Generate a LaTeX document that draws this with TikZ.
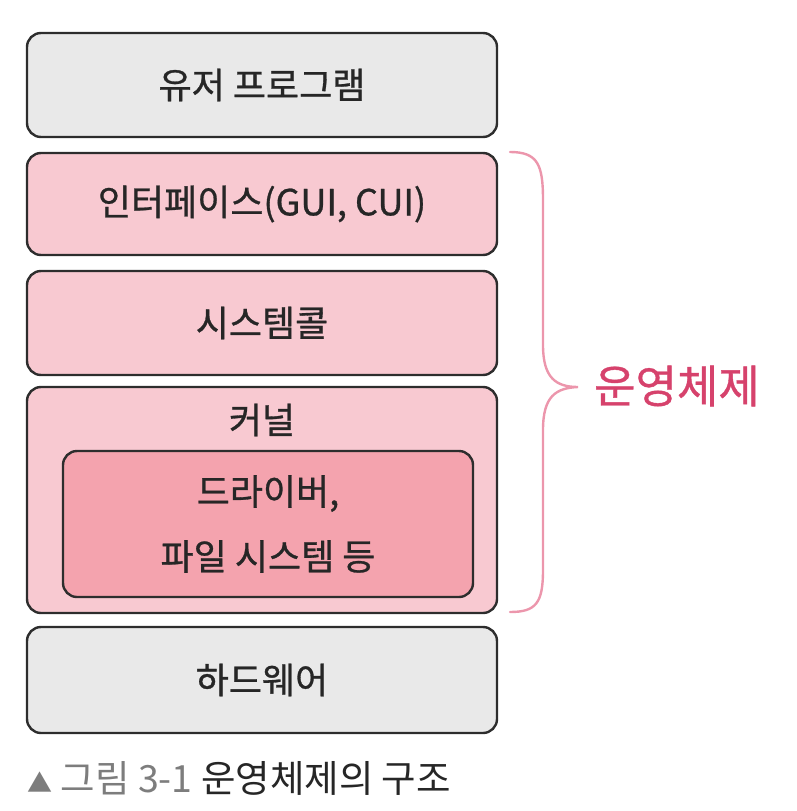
\documentclass[tikz,border=0pt]{standalone}
\usepackage{fontspec}
\setmainfont{Noto Sans CJK KR}
\newfontfamily\handfont[FakeBold=0.8]{Noto Sans CJK KR}
\usetikzlibrary{positioning}
\definecolor{layergray}{RGB}{233,233,233}
\definecolor{layerpink}{RGB}{248,201,209}
\definecolor{corepink}{RGB}{244,163,174}
\definecolor{braceline}{RGB}{236,150,172}
\definecolor{ostext}{RGB}{214,66,108}
\definecolor{edge}{RGB}{45,45,45}
\definecolor{capgray}{RGB}{125,125,125}

\begin{document}
\begin{tikzpicture}[x=1pt,y=-1pt,font=\handfont\fontsize{36}{40}\selectfont,
  layer/.style={draw=edge,line width=2.4pt,rounded corners=14pt,
    minimum width=470pt,inner sep=0pt,text=black!85}]
  \useasboundingbox (0,0) rectangle (797,811);
  % ---------------- layers ----------------
  \node[layer,fill=layergray,minimum height=104pt] (user) at (262,85) {유저 프로그램};
  \node[layer,fill=layerpink,minimum height=102pt] (intf) at (262,204) {인터페이스(GUI, CUI)};
  \node[layer,fill=layerpink,minimum height=104pt] (syscall) at (262,323) {시스템콜};
  \node[layer,fill=layerpink,minimum height=226pt] (kernel) at (262,500) {};
  \node[text=black!85] (kernellabel) at (262,420) {커널};
  \node[layer,fill=corepink,minimum width=410pt,minimum height=146pt,align=center,
    font=\handfont\fontsize{36}{65}\selectfont] (driver) at (268,524) {드라이버,\\파일 시스템 등};
  \node[layer,fill=layergray,minimum height=106pt] (hw) at (262,680) {하드웨어};
  % ---------------- brace ----------------
  \coordinate (bracetop) at (510,152);
  \coordinate (bracetip) at (578,387);
  \coordinate (bracebot) at (510,612);
  \draw[braceline,line width=2.4pt,line cap=round]
    (bracetop) .. controls (538,152) and (543,165) .. (543,200) -- (543,345)
    .. controls (543,378) and (556,387) .. (bracetip)
    .. controls (556,388) and (543,396) .. (543,430) -- (543,570)
    .. controls (543,603) and (536,612) .. (bracebot);
  \node[ostext,anchor=west,inner sep=0pt,font=\handfont\fontsize{45}{50}\selectfont] (oslabel) at (594,386) {운영체제};
  % ---------------- caption ----------------
  \node[anchor=west,inner sep=0pt,text=black!85,font=\fontsize{37.5}{42}\selectfont] (caption) at (27,778)
    {\textcolor{capgray}{{\fontsize{25}{25}\selectfont ▲} 그림 3-1} 운영체제의 구조};
\end{tikzpicture}
\end{document}
